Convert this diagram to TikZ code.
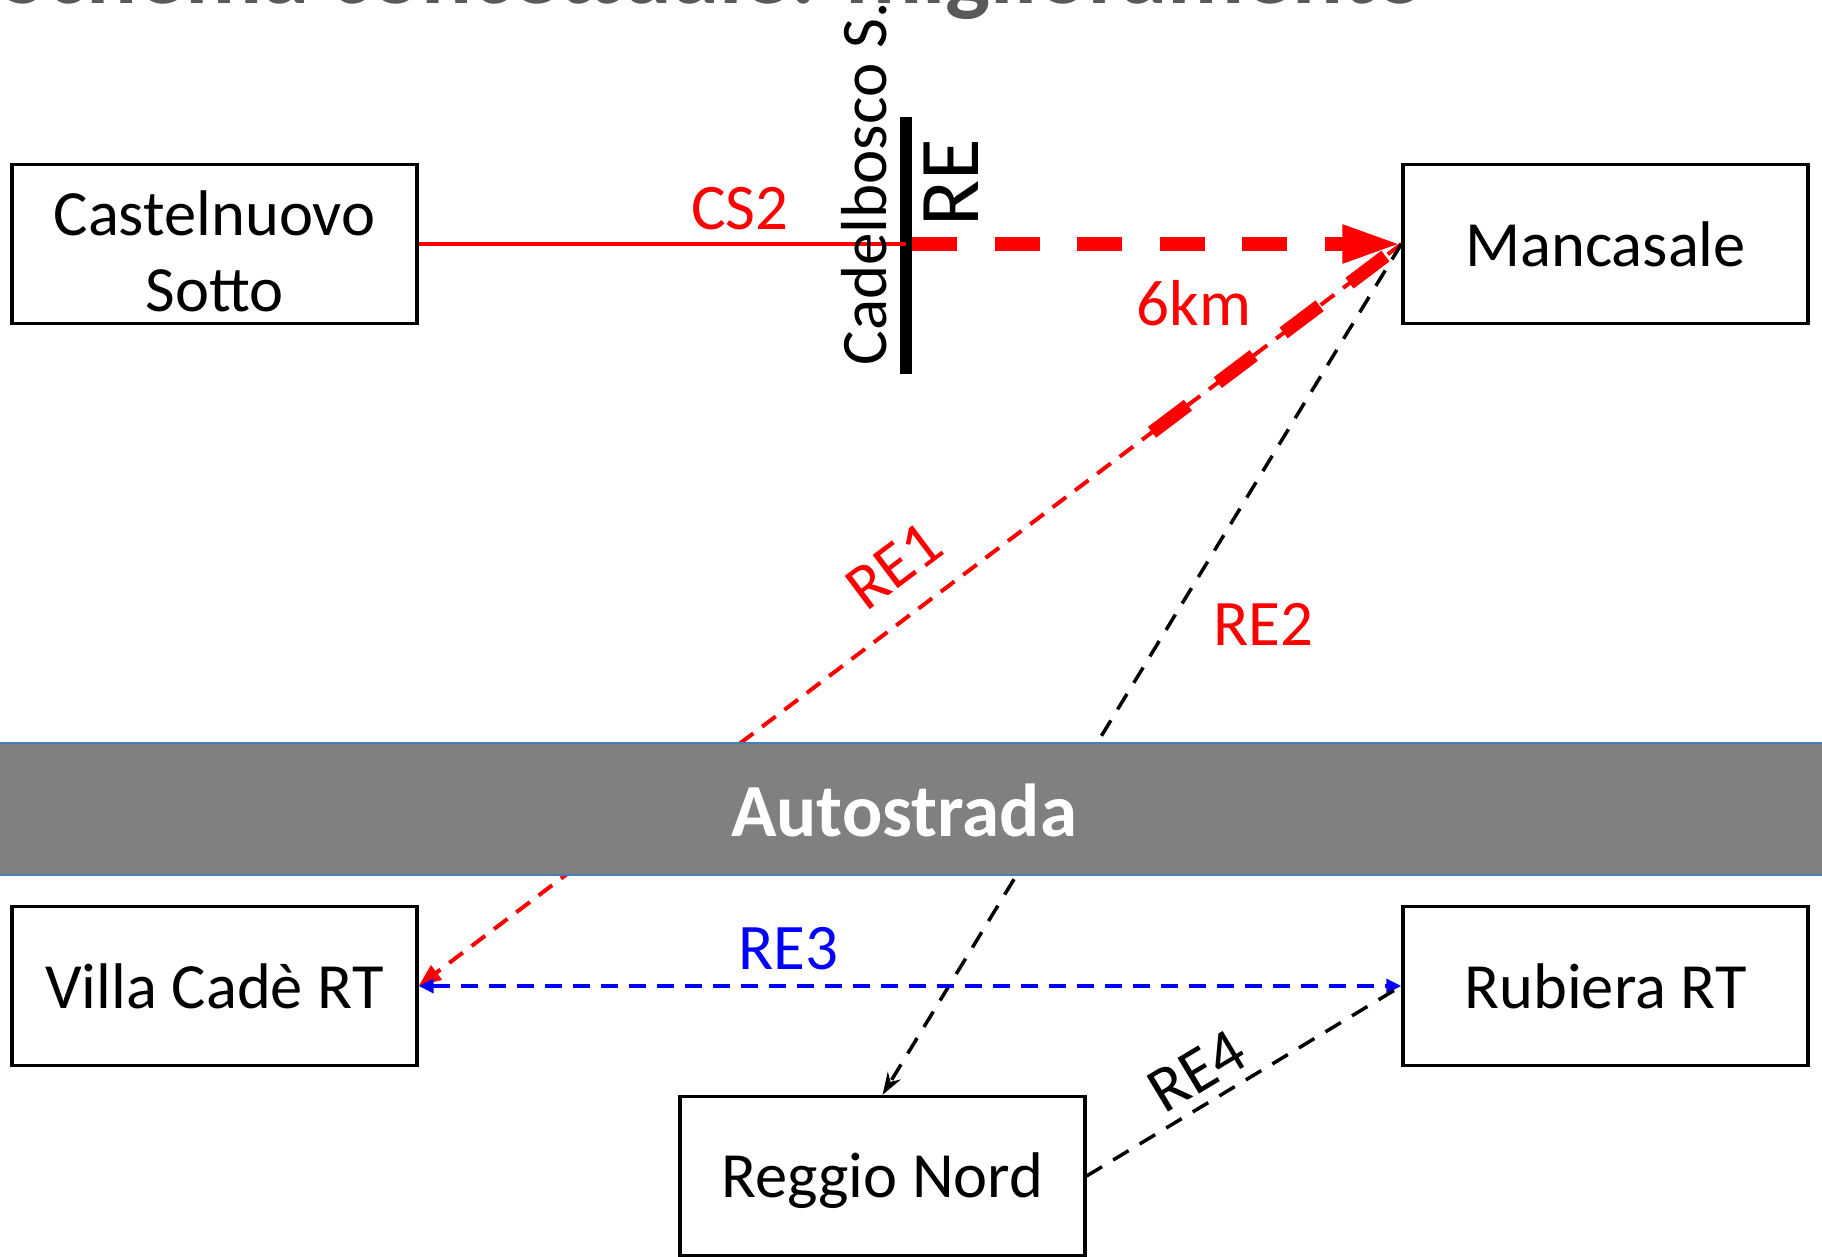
\documentclass[tikz,border=0pt]{standalone}
\usepackage{fontspec}
\setmainfont{Carlito}
\usetikzlibrary{arrows.meta,calc}
\definecolor{bandgray}{HTML}{808080}
\definecolor{bandline}{HTML}{4A7EBB}
\definecolor{titlegray}{HTML}{595959}
\begin{document}
\begin{tikzpicture}[x=0.4pt,y=-0.4pt,
  box/.style={draw, line width=1.3pt, minimum width=162pt, minimum height=63.6pt, inner sep=0pt, align=center, font=\fontsize{25.8}{30.4}\selectfont},
  lbl/.style={inner sep=0pt, font=\fontsize{26}{30}\selectfont},
  thickred/.style={red, line width=5.4pt, dash pattern=on 18pt off 15pt},
  thinred/.style={red, line width=1.6pt, dash pattern=on 6.8pt off 4.4pt},
  blackdash/.style={black, line width=1.4pt, dash pattern=on 7.2pt off 5.2pt},
  bluedash/.style={blue, line width=1.9pt, dash pattern=on 6.8pt off 4.4pt}]
\clip (0,0) rectangle (1822,1256);
\fill[white] (0,0) rectangle (1822,1256);
% cut-off title
\node[anchor=base east, inner sep=0pt, text=titlegray, font=\fontsize{38}{40}\selectfont\bfseries] (title) at (1426,3) {Schema concettuale: miglioramento};
% boxes
\node[box] (cast) at (214.5,244) {\rule{0pt}{24pt}Castelnuovo\\Sotto};
\node[box] (manc) at (1605.5,244) {Mancasale};
\node[box] (villa) at (214.5,986) {Villa Cadè RT};
\node[box] (rub) at (1605.5,986) {Rubiera RT};
\node[box] (reggio) at (882.5,1176) {\rule{0pt}{22pt}Reggio Nord};
% Cadelbosco bar
\node[fill=black, inner sep=0pt, minimum width=4.6pt, minimum height=103pt] (bar) at (906,245.5) {};
% connectors
\draw[red, line width=1.7pt] (cast.east) -- (cast.east -| bar.center);
\draw[thinred, -{Triangle[length=9pt,width=7pt]}] (manc.west) -- (villa.east);
\draw[blackdash, -{Stealth[length=9pt,width=6pt]}] (manc.west) -- (reggio.north);
\draw[bluedash, {Triangle[length=6pt,width=5.5pt]}-{Triangle[length=6pt,width=5.5pt]}] (villa.east) -- (rub.west);
\draw[blackdash] (reggio.east) -- (rub.west);
\draw[thickred, dash phase=25pt] (manc.west) -- ($(manc.west)!0.257!(villa.east)$);
\draw[thickred, -{Triangle[length=23.6pt,width=14pt]}] (cast.east -| bar.east) -- (manc.west);
% motorway band
\fill[bandgray] (0,743) rectangle (1822,875);
\draw[bandline, line width=0.9pt] (0,743) -- (1822,743);
\draw[bandline, line width=0.9pt] (0,875) -- (1822,875);
\node[inner sep=0pt, text=white, font=\fontsize{30}{32}\selectfont\bfseries] (auto) at (904,810) {Autostrada};
% labels
\node[lbl, rotate=90] (cadel) at (864,184) {Cadelbosco S.};
\node[lbl, rotate=90, font=\fontsize{34}{36}\selectfont] (re) at (951,182.5) {RE};
\node[lbl, text=red] (cs2) at (740,209) {CS2};
\node[lbl, text=red] (km) at (1194,303) {6km};
\node[lbl, text=red, rotate=37] (re1) at (894,566) {RE1};
\node[lbl, text=red] (re2) at (1263,624) {RE2};
\node[lbl, text=blue] (re3) at (788,949) {RE3};
\node[lbl, rotate=31] (re4) at (1197,1071) {RE4};
\end{tikzpicture}
\end{document}
